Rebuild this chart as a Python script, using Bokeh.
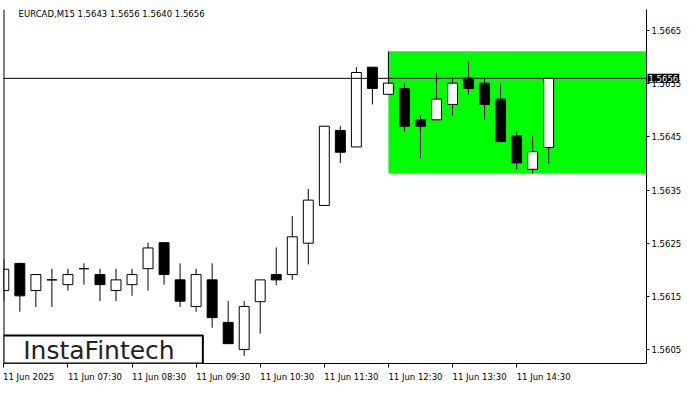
from bokeh.plotting import figure
from bokeh.models import (Range1d, LinearAxis, FixedTicker, Span, BoxAnnotation,
                          Label, ColumnDataSource)
from bokeh.embed import file_html
from bokeh.resources import INLINE

# ---- data (EURCAD M15, 11 Jun 2025) ----
times = ["06:30", "06:45", "07:00", "07:15", "07:30", "07:45", "08:00", "08:15",
         "08:30", "08:45", "09:00", "09:15", "09:30", "09:45", "10:00", "10:15",
         "10:30", "10:45", "11:00", "11:15", "11:30", "11:45", "12:00", "12:15",
         "12:30", "12:45", "13:00", "13:15", "13:30", "13:45", "14:00", "14:15",
         "14:30", "14:45", "15:00"]
opens = [1.56161, 1.56212, 1.56161, 1.56181, 1.56172, 1.56202, 1.56191, 1.56161,
         1.56172, 1.56202, 1.56251, 1.56181, 1.56131, 1.56181, 1.56101, 1.56050,
         1.56140, 1.56191, 1.56191, 1.56250, 1.56321, 1.56462, 1.56431, 1.56581,
         1.56530, 1.56541, 1.56482, 1.56482, 1.56511, 1.56561, 1.56551, 1.56521,
         1.56452, 1.56389, 1.5643]
highs = [1.56220, 1.56213, 1.56192, 1.56202, 1.56202, 1.56212, 1.56202, 1.56202,
         1.56202, 1.56251, 1.56251, 1.56212, 1.56202, 1.56212, 1.56141, 1.56141,
         1.56181, 1.56242, 1.56301, 1.56352, 1.56470, 1.56470, 1.56581, 1.56581,
         1.56611, 1.56551, 1.56491, 1.56571, 1.56562, 1.56592, 1.56562, 1.56551,
         1.56461, 1.56452, 1.5656]
lows = [1.56141, 1.56121, 1.56130, 1.56130, 1.56161, 1.56172, 1.56141, 1.56141,
        1.56151, 1.56161, 1.56172, 1.56130, 1.56121, 1.56091, 1.56061, 1.56038,
        1.56080, 1.56171, 1.56181, 1.56210, 1.56321, 1.56401, 1.56431, 1.56511,
        1.56530, 1.56460, 1.56410, 1.56482, 1.56490, 1.56530, 1.56482, 1.56441,
        1.56389, 1.56380, 1.5640]
closes = [1.56201, 1.56151, 1.56191, 1.56181, 1.56191, 1.56202, 1.56172, 1.56181,
          1.56191, 1.56241, 1.56191, 1.56141, 1.56191, 1.56110, 1.56061, 1.56131,
          1.56181, 1.56181, 1.56262, 1.56331, 1.56470, 1.56421, 1.56571, 1.56541,
          1.56551, 1.56470, 1.56470, 1.56521, 1.56551, 1.56541, 1.56511, 1.56441,
          1.56401, 1.56422, 1.5656]

xtick_index = [0, 4, 8, 12, 16, 20, 24, 28, 32]
xtick_labels = ["11 Jun 2025", "11 Jun 07:30", "11 Jun 08:30", "11 Jun 09:30",
                "11 Jun 10:30", "11 Jun 11:30", "11 Jun 12:30", "11 Jun 13:30",
                "11 Jun 14:30"]
ytick_values = [1.5605, 1.5615, 1.5625, 1.5635, 1.5645, 1.5655, 1.5665]
ytick_labels = ["1.5605", "1.5615", "1.5625", "1.5635", "1.5645", "1.5655", "1.5665"]

pattern_start = 24
pattern_top = 1.56611
pattern_bottom = 1.56381
current_price = 1.5656
current_label = "1.5656"
title_text = "EURCAD,M15  1.5643 1.5656 1.5640 1.5656"
logo_text = "InstaFintech"

# ---- layout constants ----
X_START, X_END = -0.02, 40.105
Y_START, Y_END = 1.560237, 1.566895
PX_PER_UNIT = 16.0
FONT = "DejaVu Sans"
FSIZE = "8.5px"

p = figure(width=684, height=384,
           x_range=Range1d(X_START, X_END), y_range=Range1d(Y_START, Y_END),
           x_axis_location=None, y_axis_location=None,
           output_backend="svg", toolbar_location=None,
           min_border_left=3, min_border_top=0, min_border_right=0, min_border_bottom=0)
p.grid.visible = False
p.outline_line_color = None
p.background_fill_color = "white"
p.border_fill_color = "white"

# x axis: tick marks at the hours (minor ticks), labels left-aligned to them
label_pos = [round(i + len(t) * 4.5 / 2 / PX_PER_UNIT, 4) for i, t in zip(xtick_index, xtick_labels)]
ax = LinearAxis(ticker=FixedTicker(ticks=label_pos, minor_ticks=xtick_index),
                major_label_overrides={pos: t for pos, t in zip(label_pos, xtick_labels)},
                major_tick_out=0, major_tick_in=0,
                minor_tick_out=4, minor_tick_in=0,
                axis_line_color="black", major_tick_line_color=None,
                minor_tick_line_color="black",
                major_label_standoff=4,
                major_label_text_font=FONT, major_label_text_font_size=FSIZE,
                major_label_text_color="black")
p.add_layout(ax, "below")

# right price axis
ay = LinearAxis(ticker=FixedTicker(ticks=ytick_values),
                major_label_overrides={v: t for v, t in zip(ytick_values, ytick_labels)},
                major_tick_out=3, major_tick_in=0,
                minor_tick_out=0, minor_tick_in=0,
                major_label_standoff=2,
                axis_line_color="black", major_tick_line_color="black",
                major_label_text_font=FONT, major_label_text_font_size=FSIZE,
                major_label_text_color="black")
p.add_layout(ay, "right")

p.add_layout(Span(location=X_START, dimension="height", line_color="black", line_width=2))

# pattern rectangle
p.quad(left=[pattern_start], right=[X_END + 1], top=[pattern_top], bottom=[pattern_bottom],
       fill_color="#00ff00", line_color=None)

# candles
idx = list(range(len(times)))
src = ColumnDataSource(dict(
    x=idx, high=highs, low=lows,
    top=[max(o, c) for o, c in zip(opens, closes)],
    bottom=[min(o, c) for o, c in zip(opens, closes)],
    fill=["white" if c >= o else "black" for o, c in zip(opens, closes)],
))
p.segment(x0="x", y0="high", x1="x", y1="low", source=src, line_color="black", line_width=1)
p.vbar(x="x", width=0.62, top="top", bottom="bottom", source=src,
       fill_color="fill", line_color="black", line_width=1)

# current price line + tag (tag lives in a side panel so it is not clipped)
p.add_layout(Span(location=current_price, dimension="width", line_color="black", line_width=1))
p.add_layout(Label(x=X_END, y=current_price, x_offset=1, text=current_label,
                   text_font=FONT, text_font_size=FSIZE, text_color="white",
                   text_baseline="middle", text_align="left",
                   background_fill_color="black", padding=1), "above")

# title text
p.add_layout(Label(x=0.92, y=1.56681, text=title_text, text_font=FONT,
                   text_font_size=FSIZE, text_color="black", text_baseline="middle"))

# logo
p.add_layout(BoxAnnotation(left=X_START, right=12.42, bottom=Y_START, top=1.560762,
                           fill_color="white", fill_alpha=1.0,
                           line_color="black", line_alpha=1.0, line_width=2))
p.add_layout(Label(x=1.21, y=1.560482, text=logo_text, text_font="DejaVu Sans",
                   text_font_size="25px", text_color="#222222", text_baseline="middle"))

open("out.html", "w").write(file_html(p, INLINE))
